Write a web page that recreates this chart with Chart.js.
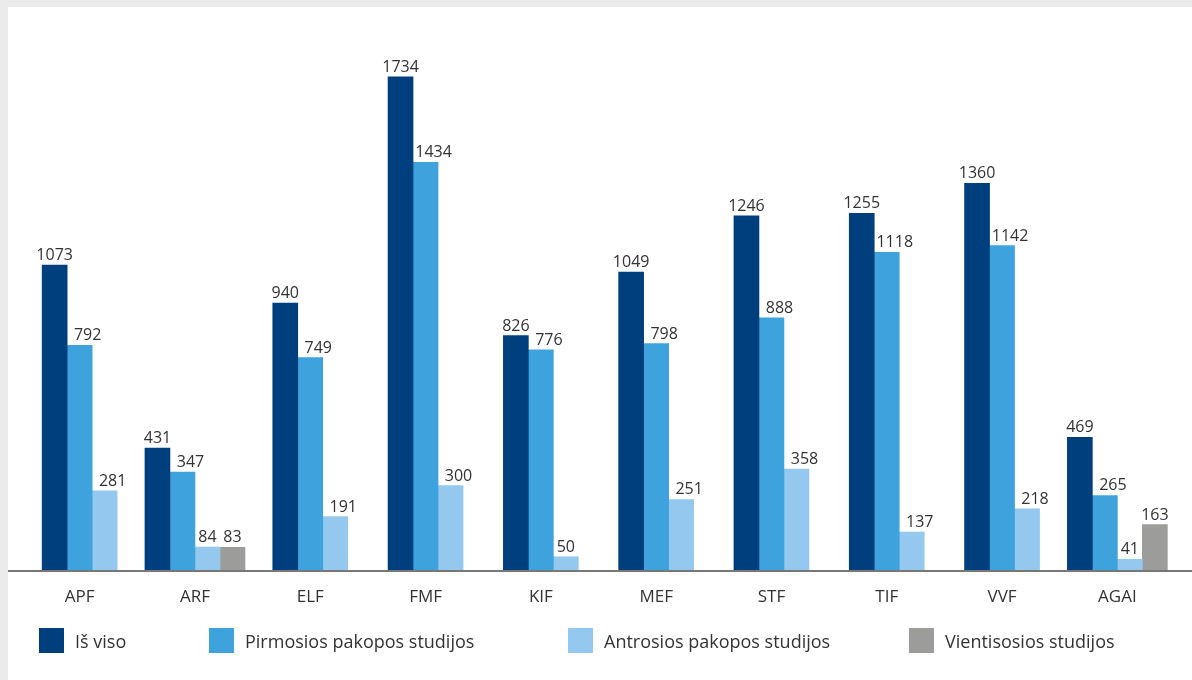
<!DOCTYPE html>
<html>
<head>
<meta charset="utf-8">
<script src="https://cdn.jsdelivr.net/npm/chart.js@4.4.1/dist/chart.umd.min.js"></script>
<style>
    html, body { margin: 0; padding: 0; background: #fff; }
    #wrap { position: relative; width: 1192px; height: 680px; overflow: hidden; }
    #frame { position: absolute; left: 0; top: 0; width: 1192px; height: 680px; box-sizing: border-box;
             border-top: 7px solid #ebebeb; border-left: 8px solid #ebebeb; pointer-events: none; }
    #legend { position: absolute; left: 0; top: 628px; width: 1192px; height: 25px; }
    .item { position: absolute; top: 0; display: flex; align-items: center; height: 25px;
            font: 18px "Open Sans", sans-serif; color: #333; white-space: nowrap; }
    .box { width: 25px; height: 25px; margin-right: 11px; }
</style>
</head>
<body>
<div id="wrap">
    <canvas id="facultyChart" width="1192" height="680"></canvas>
    <div id="legend"></div>
    <div id="frame"></div>
</div>
<script>
// --- data ---
const faculties = ['APF', 'ARF', 'ELF', 'FMF', 'KIF', 'MEF', 'STF', 'TIF', 'VVF', 'AGAI'];
const totalStudents = [1073, 431, 940, 1734, 826, 1049, 1246, 1255, 1360, 469];
const firstCycle = [792, 347, 749, 1434, 776, 798, 888, 1118, 1142, 265];
const secondCycle = [281, 84, 191, 300, 50, 251, 358, 137, 218, 41];
const integratedStudies = [null, 83, null, null, null, null, null, null, null, 163];
const seriesNames = ['Iš viso', 'Pirmosios pakopos studijos', 'Antrosios pakopos studijos', 'Vientisosios studijos'];
const seriesColors = ['#003f7e', '#3ea2dd', '#94c8ef', '#9c9c9b'];
const legendLeft = [39, 209, 568, 909];

// value labels above each bar, nudged right when the left neighbour would cover them
const valueLabels = {
    id: 'valueLabels',
    afterDatasetsDraw(chart) {
        const ctx = chart.ctx;
        ctx.save();
        ctx.font = '16px "Open Sans", sans-serif';
        ctx.fillStyle = '#333';
        ctx.textAlign = 'center';
        ctx.textBaseline = 'alphabetic';
        chart.data.datasets.forEach((ds, i) => {
            chart.getDatasetMeta(i).data.forEach((bar, j) => {
                const v = ds.data[j];
                if (v == null) return;
                let x = bar.x;
                const w = ctx.measureText(String(v)).width;
                if (i > 0) {
                    const prev = chart.getDatasetMeta(i - 1).data[j];
                    const prevRight = prev.x + prev.width / 2;
                    if (prev.y < bar.y - 5 && x - w / 2 < prevRight + 1) x += 8;
                }
                ctx.fillText(String(v), x, bar.y - 5);
            });
        });
        ctx.restore();
    }
};

// baseline runs across the whole white panel
const baseLine = {
    id: 'baseLine',
    afterDraw(chart) {
        const ctx = chart.ctx;
        const y = chart.chartArea.bottom;
        ctx.save();
        ctx.strokeStyle = '#777';
        ctx.lineWidth = 2;
        ctx.beginPath();
        ctx.moveTo(8, y);
        ctx.lineTo(chart.width, y);
        ctx.stroke();
        ctx.restore();
    }
};

const chart = new Chart(document.getElementById('facultyChart').getContext('2d'), {
    type: 'bar',
    data: {
        labels: faculties,
        datasets: [
            { label: seriesNames[0], data: totalStudents, backgroundColor: seriesColors[0] },
            { label: seriesNames[1], data: firstCycle, backgroundColor: seriesColors[1] },
            { label: seriesNames[2], data: secondCycle, backgroundColor: seriesColors[2] },
            { label: seriesNames[3], data: integratedStudies, backgroundColor: seriesColors[3] }
        ]
    },
    options: {
        responsive: false, animation: false,
        layout: { padding: { left: 22, right: 17, top: 1, bottom: 69 } },
        datasets: { bar: { barThickness: 25, skipNull: true } },
        plugins: { legend: { display: false }, tooltip: { enabled: false } },
        scales: {
            x: {
                grid: { display: false }, border: { display: false },
                ticks: { color: '#333', font: { size: 17, family: '"Open Sans", sans-serif' }, padding: 8 },
                afterFit: function(s) { s.height = 40; }
            },
            y: { display: false, min: 0, max: 2000 }
        }
    },
    plugins: [valueLabels, baseLine]
});

// html legend from the chart's own items
const legendEl = document.getElementById('legend');
Chart.defaults.plugins.legend.labels.generateLabels(chart).forEach((it, i) => {
    const item = document.createElement('div');
    item.className = 'item';
    item.style.left = legendLeft[i] + 'px';
    const box = document.createElement('span');
    box.className = 'box';
    box.style.background = it.fillStyle;
    item.appendChild(box);
    item.appendChild(document.createTextNode(it.text));
    legendEl.appendChild(item);
});
</script>
</body>
</html>
